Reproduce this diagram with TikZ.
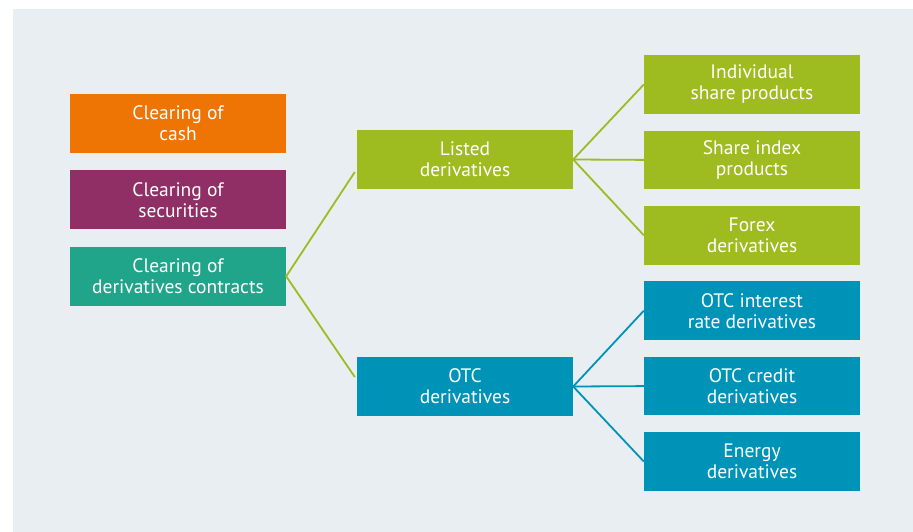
\documentclass[tikz,border=0pt]{standalone}
\usepackage{fontspec}
\setmainfont{PT Sans}
\usepackage{tikz}
\usetikzlibrary{positioning}

\definecolor{bgpanel}{HTML}{E9EEF3}
\definecolor{cashorange}{HTML}{EE7404}
\definecolor{secpurple}{HTML}{8F2F66}
\definecolor{derivteal}{HTML}{20A58A}
\definecolor{listedgreen}{HTML}{9EBB20}
\definecolor{otcblue}{HTML}{0093B8}

\begin{document}
\begin{tikzpicture}[
  x=1pt, y=-1pt,
  box/.style={rectangle, minimum width=216pt, minimum height=59pt, inner sep=0pt,
    align=center, text=white, font=\fontsize{19.5}{21}\selectfont},
  leaf/.style={box, minimum height=58.5pt},
  link/.style={line width=1.8pt},
]
  \useasboundingbox (0,0) rectangle (913,532);
  \fill[bgpanel] (13,9) rectangle (913,532);

  % what gets cleared
  \node[box, fill=cashorange] (cash) at (178,123.5) {Clearing of\\cash};
  \node[box, fill=secpurple, below=17pt of cash] (securities) {Clearing of\\securities};
  \node[box, fill=derivteal, below=17pt of securities] (derivs) {Clearing of\\derivatives contracts};

  % derivative types
  \node[box, fill=listedgreen] (listed) at (465,159.5) {Listed\\derivatives};
  \node[box, fill=otcblue] (otc) at (465,386.5) {OTC\\derivatives};

  % products
  \node[leaf, fill=listedgreen] (share) at (752,84.5) {Individual\\share products};
  \node[leaf, fill=listedgreen, below=16.5pt of share] (index) {Share index\\products};
  \node[leaf, fill=listedgreen, below=16.5pt of index] (forex) {Forex\\derivatives};
  \node[leaf, fill=otcblue, below=16.5pt of forex] (irate) {OTC interest\\rate derivatives};
  \node[leaf, fill=otcblue, below=16.5pt of irate] (credit) {OTC credit\\derivatives};
  \node[leaf, fill=otcblue, below=16.5pt of credit] (energy) {Energy\\derivatives};

  \coordinate (listedin) at ([xshift=-2pt, yshift=-12.5pt]listed.west);
  \coordinate (otcin) at ([xshift=-2pt, yshift=9.5pt]otc.west);

  \draw[link, listedgreen] (listedin) -- (derivs.east) -- (otcin);
  \foreach \leafname in {share, index, forex}
    \draw[link, listedgreen] (listed.east) -- (\leafname.west);
  \foreach \leafname in {irate, credit, energy}
    \draw[link, otcblue] (otc.east) -- (\leafname.west);
\end{tikzpicture}
\end{document}
